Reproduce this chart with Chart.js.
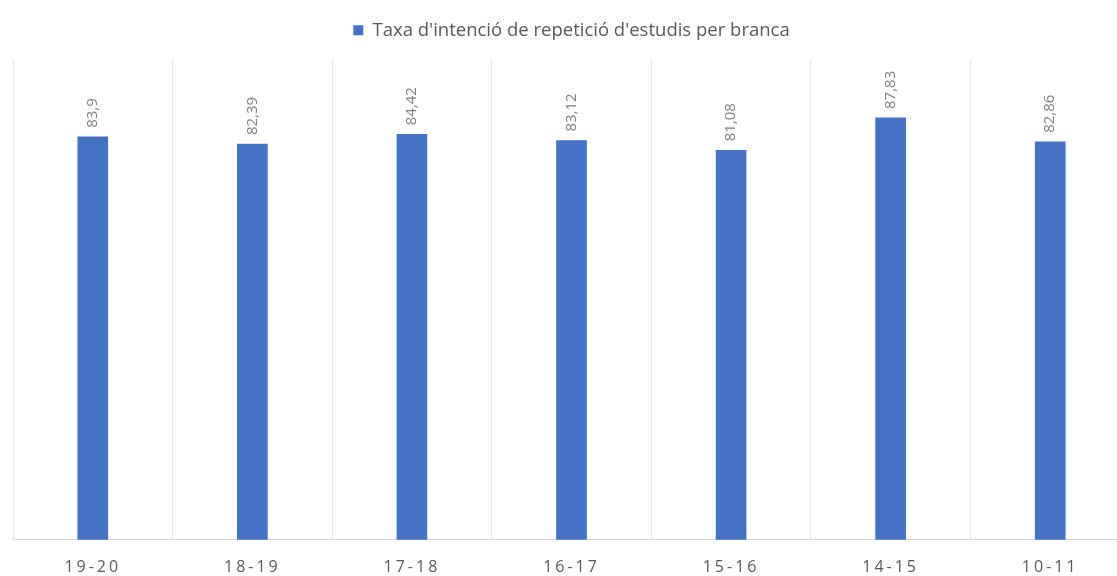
<!DOCTYPE html>
<html>
<head>
<meta charset="utf-8">
<script src="https://cdn.jsdelivr.net/npm/chart.js@4.4.1/dist/chart.umd.min.js"></script>
<style>
  html, body { margin: 0; padding: 0; background: #fff; overflow: hidden; }
  #wrap { width: 1136px; height: 595px; }
</style>
</head>
<body>
<div id="wrap"><canvas id="chart"></canvas></div>
<script>
const categories = ['19-20', '18-19', '17-18', '16-17', '15-16', '14-15', '10-11'];
const values = [83.9, 82.39, 84.42, 83.12, 81.08, 87.83, 82.86];
const seriesName = "Taxa d'intenció de repetició d'estudis per branca";

const fmt = v => String(v).replace('.', ',');

// Rotated value labels above each bar
const valueLabels = {
  id: 'valueLabels',
  afterDatasetsDraw(chart) {
    const ctx = chart.ctx;
    const meta = chart.getDatasetMeta(0);
    ctx.save();
    ctx.font = '15px "Open Sans"';
    ctx.fillStyle = '#808080';
    ctx.textAlign = 'left';
    ctx.textBaseline = 'middle';
    meta.data.forEach((bar, i) => {
      ctx.save();
      ctx.translate(bar.x, bar.y - 9);
      ctx.rotate(-Math.PI / 2);
      ctx.fillText(fmt(values[i]), 0, 0);
      ctx.restore();
    });
    ctx.restore();
  }
};

// extra space under the legend, wider spacing on the x tick labels
const tweaks = {
  id: 'tweaks',
  beforeLayout(chart) {
    const lg = chart.legend;
    if (lg && !lg._patched) {
      const fit = lg.fit;
      lg.fit = function () { fit.call(this); this.height += 10; };
      lg._patched = true;
    }
  },
  beforeDraw(chart) {
    const s = chart.scales.x;
    if (s && !s._patched) {
      const draw = s.drawLabels;
      s.drawLabels = function (area) {
        const ctx = this.ctx;
        ctx.save();
        ctx.letterSpacing = '3px';
        draw.call(this, area);
        ctx.restore();
      };
      s._patched = true;
    }
  }
};

new Chart(document.getElementById('chart'), {
  type: 'bar',
  data: {
    labels: categories,
    datasets: [{
      label: seriesName,
      data: values,
      backgroundColor: '#4472C4',
      barThickness: 30
    }]
  },
  options: {
    responsive: true,
    maintainAspectRatio: false,
    animation: false,
    layout: { padding: { left: 13, right: 6, top: 11, bottom: 0 } },
    plugins: {
      legend: {
        position: 'top',
        labels: {
          font: { family: 'Open Sans', size: 18.5 },
          color: '#595959',
          boxWidth: 10,
          boxHeight: 10,
          padding: 10
        }
      },
      tooltip: { enabled: false }
    },
    scales: {
      x: {
        grid: { color: '#e6e6e6', offset: true, drawTicks: false },
        border: { color: '#d9d9d9' },
        ticks: { font: { family: 'Open Sans', size: 16 }, color: '#595959', padding: 18 }
      },
      y: { display: false, min: 0, max: 100 }
    }
  },
  plugins: [valueLabels, tweaks]
});
</script>
</body>
</html>
